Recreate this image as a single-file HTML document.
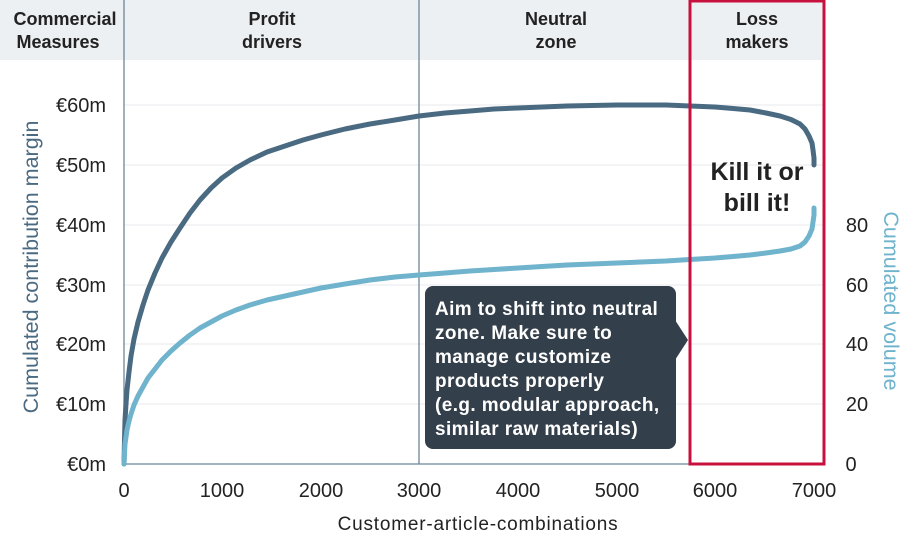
<!DOCTYPE html>
<html><head><meta charset="utf-8"><style>
body{margin:0;background:#fff}
svg{display:block;font-family:"Liberation Sans",sans-serif}
</style></head><body>
<svg width="900" height="540" viewBox="0 0 900 540">
<rect x="0" y="0" width="900" height="60" fill="#edf0f3"/>
<rect x="824" y="0" width="76" height="60" fill="#fff"/>
<g stroke="#e8eaec" stroke-width="1">
<line x1="124" x2="824" y1="105" y2="105"/>
<line x1="124" x2="824" y1="165" y2="165"/>
<line x1="124" x2="824" y1="225" y2="225"/>
<line x1="124" x2="824" y1="285" y2="285"/>
<line x1="124" x2="824" y1="344" y2="344"/>
<line x1="124" x2="824" y1="404" y2="404"/>
</g>
<line x1="124" x2="124" y1="0" y2="464" stroke="#6d8699" stroke-width="1.3"/>
<line x1="419" x2="419" y1="0" y2="464" stroke="#6d8699" stroke-width="1.3"/>
<line x1="124" x2="824" y1="464" y2="464" stroke="#6d8699" stroke-width="1.3"/>
<g font-weight="bold" font-size="18" fill="#222" text-anchor="middle">
<text x="65" y="25">Commercial</text><text x="58" y="48">Measures</text>
<text x="272" y="25">Profit</text><text x="272" y="48">drivers</text>
<text x="556" y="25">Neutral</text><text x="556" y="48">zone</text>
<text x="757" y="25">Loss</text><text x="757" y="48">makers</text>
</g>
<g font-size="20" fill="#222" text-anchor="end">
<text x="106" y="112">€60m</text><text x="106" y="172">€50m</text><text x="106" y="232">€40m</text>
<text x="106" y="292">€30m</text><text x="106" y="351">€20m</text><text x="106" y="411">€10m</text><text x="106" y="471">€0m</text>
</g>
<g font-size="20" fill="#222" text-anchor="middle">
<text x="857" y="232">80</text><text x="857" y="292">60</text><text x="857" y="351">40</text><text x="857" y="411">20</text><text x="851" y="471">0</text>
<text x="124" y="497">0</text><text x="222" y="497">1000</text><text x="321" y="497">2000</text><text x="419" y="497">3000</text>
<text x="518" y="497">4000</text><text x="617" y="497">5000</text><text x="715" y="497">6000</text><text x="814" y="497">7000</text>
</g>
<text x="478" y="530" font-size="19" letter-spacing="0.8" fill="#222" text-anchor="middle">Customer-article-combinations</text>
<text transform="translate(38,267) rotate(-90)" font-size="21.5" fill="#4a6a82" text-anchor="middle">Cumulated contribution margin</text>
<text transform="translate(884,301) rotate(90)" font-size="21.5" fill="#6fb3cc" text-anchor="middle">Cumulated volume</text>
<polyline fill="none" stroke="#4a6a82" stroke-width="5" stroke-linejoin="round" stroke-linecap="round" points="124,464 124.5,440 125,420 126,404 127,390 129,372 131,356 134,339 138,322 143,305 148,290 155,273 162,258 171,242 180,228 190,213 200,200 211,188 222,178 236,168 250,160 267,152 285,146 303,140 321,135 345,129 370,124 395,120 419,116 445,113 470,111 494,109 518,108 542,107 567,106 592,105.5 617,105 641,105 666,105 690,106 715,107 733,108.5 750,110 766,113 780,116 791,119.5 800,124 805,129 809,136 812,143 813,150 814,158 814,165"/>
<polyline fill="none" stroke="#6fb3cc" stroke-width="5" stroke-linejoin="round" stroke-linecap="round" points="124,464 124.5,453 125,444 126,437 127,430 129,421 131,414 134,405 138,396 143,387 148,378 155,369 162,360 171,351 180,343 190,335 200,328 211,322 222,316 236,310 250,305 267,300 285,296 303,292 321,288 345,284 370,280 395,277 419,275 445,273 470,271 494,269.5 518,268 542,266.5 567,265 592,264 617,263 641,262 666,261 690,259.5 715,258 733,256.5 750,255 766,253 780,251 791,249 800,246 805,242 809,236 812,229 813,222 814,215 814,208"/>
<rect x="690" y="1" width="134" height="463" fill="none" stroke="#c8103e" stroke-width="3"/>
<text x="757" y="180" font-size="25" font-weight="bold" fill="#222" text-anchor="middle">Kill it or</text>
<text x="757" y="211" font-size="25" font-weight="bold" fill="#222" text-anchor="middle">bill it!</text>
<rect x="425" y="286" width="251" height="163" rx="8" fill="#333f4a"/>
<polygon points="675,320 688,340 675,360" fill="#333f4a"/>
<g font-size="19" font-weight="bold" fill="#fff" letter-spacing="0.4">
<text x="435" y="315">Aim to shift into neutral</text>
<text x="435" y="339">zone. Make sure to</text>
<text x="435" y="363">manage customize</text>
<text x="435" y="387">products properly</text>
<text x="435" y="411">(e.g. modular approach,</text>
<text x="435" y="435">similar raw materials)</text>
</g>
</svg>
</body></html>
